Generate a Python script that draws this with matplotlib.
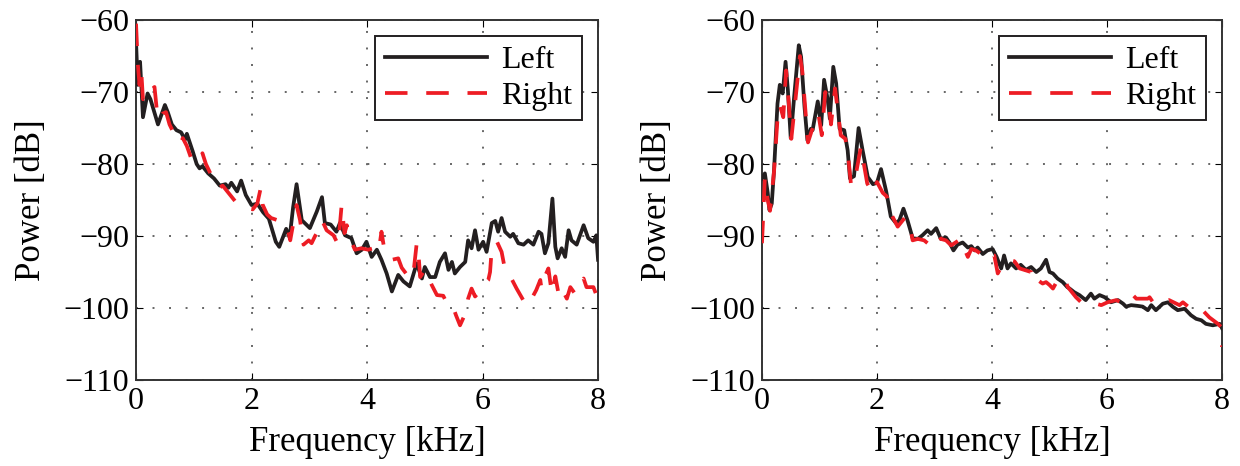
import numpy as np
import matplotlib
matplotlib.use("Agg")
import matplotlib.pyplot as plt

plt.rcParams.update(
    {
        "font.family": ["Liberation Serif", "DejaVu Serif"],
        "font.size": 23,
        "axes.linewidth": 1.4,
        "xtick.direction": "in",
        "ytick.direction": "in",
        "xtick.top": True,
        "ytick.right": True,
        "xtick.major.size": 5,
        "ytick.major.size": 5,
    }
)

# ---- left panel (speech-like spectrum) ----
f_a_left = [0, 0.03, 0.07, 0.12, 0.2, 0.25, 0.38, 0.5, 0.55, 0.62, 0.7, 0.78, 0.85, 0.88, 0.98,
            1.05, 1.1, 1.15, 1.25, 1.35, 1.45, 1.55, 1.6, 1.65, 1.75, 1.82, 1.9, 2.0, 2.1, 2.2,
            2.3, 2.42, 2.48, 2.6, 2.66, 2.72, 2.78, 2.87, 3.01, 3.13, 3.22, 3.27, 3.37, 3.47, 3.53,
            3.62, 3.73, 3.82, 3.91, 3.99, 4.08, 4.17, 4.25, 4.34, 4.43, 4.54, 4.63, 4.74, 4.86, 4.95,
            5.0, 5.09, 5.18, 5.26, 5.35, 5.41, 5.47, 5.52, 5.61, 5.70, 5.75, 5.81, 5.87, 5.93, 6.01,
            6.07, 6.16, 6.22, 6.27, 6.33, 6.39, 6.48, 6.53, 6.62, 6.71, 6.79, 6.88, 6.97, 7.02, 7.08,
            7.14, 7.21, 7.26, 7.30, 7.37, 7.43, 7.49, 7.54, 7.63, 7.75, 7.83, 7.92, 7.97, 8.0]
p_a_left = [-63, -69, -65.8, -73.5, -70.2, -71, -74.5, -71.8, -72.8, -74.5, -75.3, -75.6, -76.6, -75.8, -78.2,
            -80, -80.6, -80.3, -81.3, -82, -83, -82.8, -83.3, -82.6, -83.8, -82.3, -84.3, -85.7, -85.5, -86.7,
            -87.6, -90.8, -91.5, -89, -90.2, -86, -82.8, -87.8, -88.9, -86.6, -84.6, -88.2, -88.4, -89.4, -88.2,
            -89.9, -90.3, -92.4, -91.9, -90.8, -92.9, -91.9, -93.3, -95.2, -97.7, -95.4, -96.3, -97.0, -93.8, -95.9,
            -94.3, -95.7, -95.7, -93.6, -92.4, -94.7, -93.6, -95.2, -94.3, -93.6, -90.6, -91.7, -89.2, -91.9, -90.8,
            -92.2, -88.2, -87.9, -89.4, -87.5, -89.4, -90.1, -89.7, -91.0, -91.2, -90.6, -91.2, -89.4, -89.7, -92.4,
            -91.0, -84.8, -91.5, -93.1, -91.7, -92.9, -89.2, -90.6, -91.2, -88.5, -90.3, -90.8, -89.9, -93.3]

f_a_right = [0, 0.03, 0.06, 0.09, 0.12, 0.17, 0.23, 0.29, 0.32, 0.36, 0.40, 0.46, 0.52, 0.58, 0.64,
             0.72, 0.78, 0.81, 0.88, 0.95, 1.04, 1.1, 1.15, 1.21, 1.3, 1.39, 1.44, 1.5, 1.58, 1.65,
             1.72, 1.8, 1.9, 2.02, 2.1, 2.16, 2.19, 2.27, 2.34, 2.45, 2.57, 2.62, 2.67, 2.78, 2.84,
             2.90, 2.99, 3.04, 3.1, 3.16, 3.22, 3.30, 3.42, 3.50, 3.56, 3.61, 3.65, 3.72, 3.79, 3.90,
             4.02, 4.11, 4.20, 4.25, 4.30, 4.43, 4.54, 4.60, 4.74, 4.80, 4.86, 4.89, 4.92, 5.0, 5.06,
             5.12, 5.21, 5.32, 5.38, 5.47, 5.54, 5.61, 5.70, 5.75, 5.81, 5.87, 5.94, 6.01, 6.10, 6.13,
             6.16, 6.25, 6.33, 6.39, 6.48, 6.59, 6.74, 6.79, 6.85, 6.93, 7.0, 7.02, 7.08, 7.14, 7.20,
             7.26, 7.32, 7.37, 7.46, 7.52, 7.60, 7.69, 7.75, 7.80, 7.92, 7.98, 8.0]
p_a_right = [-60.5, -66, -69, -67, -71, -70.5, -70.8, -69.5, -69.3, -72.5, -73.8, -73, -72.8, -74.5, -75.5,
             -76.8, -77, -76.4, -77.5, -79.1, -79.8, -79.5, -78.5, -80, -81.5, -82.2, -83.3, -83, -83.8, -84.5,
             -85.2, -85.5, -86.1, -86.3, -85.5, -83.3, -85.6, -87, -87.5, -87.8, -88.4, -88.7, -90.6, -85.7, -87.8,
             -91.2, -90.6, -91.0, -90, -89.2, -87.8, -89.2, -89.9, -91.2, -85.7, -89.6, -88.5, -90.6, -91.9, -91.7,
             -91.9, -91.7, -92.2, -89.4, -91.9, -93.3, -93.1, -94.4, -95.9, -95.4, -91.0, -92.4, -95.7, -94.7, -95.7,
             -96.8, -98.2, -98.3, -99.3, -99.4, -101, -102.4, -100.8, -98.7, -97.3, -98.4, -97.8, -96.8, -96.1, -95.0,
             -91.7, -90.8, -92.2, -94.7, -95.6, -97.3, -99.4, -99.6, -98.7, -97.5, -96.1, -97.3, -95.6, -94.5, -98.0,
             -95.6, -98.2, -97.3, -98.7, -97.1, -98.0, -96.6, -95.9, -97.1, -97.1, -98.4, -98.8]

# ---- right panel (music-like spectrum) ----
f_b_left = [0, 0.05, 0.1, 0.13, 0.17, 0.21, 0.27, 0.31, 0.36, 0.41, 0.45, 0.5, 0.56, 0.64, 0.68,
            0.74, 0.79, 0.85, 0.88, 0.97, 1.03, 1.08, 1.14, 1.18, 1.24, 1.29, 1.35, 1.43, 1.49, 1.53,
            1.6, 1.68, 1.75, 1.84, 1.93, 2.0, 2.07, 2.16, 2.24, 2.33, 2.39, 2.46, 2.53, 2.62, 2.71,
            2.79, 2.88, 2.94, 3.03, 3.11, 3.20, 3.26, 3.33, 3.40, 3.49, 3.58, 3.64, 3.70, 3.75, 3.84,
            3.92, 4.01, 4.08, 4.16, 4.21, 4.27, 4.33, 4.42, 4.50, 4.59, 4.68, 4.77, 4.85, 4.94, 5.0,
            5.06, 5.14, 5.23, 5.31, 5.35, 5.43, 5.52, 5.63, 5.72, 5.78, 5.87, 5.96, 6.07, 6.19, 6.28,
            6.33, 6.42, 6.53, 6.62, 6.71, 6.77, 6.85, 6.97, 7.06, 7.14, 7.23, 7.35, 7.46, 7.55, 7.64,
            7.72, 7.84, 7.96, 8.0]
p_b_left = [-82, -81.3, -84, -86.4, -85.5, -80.8, -71.6, -69, -70.2, -65.8, -69.7, -76.4, -70.6, -63.5, -65.1,
            -72.1, -76.7, -75.1, -75.3, -71.3, -74.6, -68.3, -70.9, -73.7, -66.5, -68.8, -75.1, -75.3, -78.1, -82,
            -81.7, -75, -78.1, -81.8, -82.8, -82.6, -80.7, -83.8, -87.3, -88.2, -87.8, -86.2, -87.8, -90.3, -90.4,
            -89.9, -89.2, -89.7, -88.9, -90.4, -90.2, -90.9, -92.0, -91.2, -90.9, -91.6, -91.4, -92.0, -91.6, -92.5,
            -92.0, -91.8, -92.9, -94.5, -92.7, -94.5, -93.8, -94.5, -94.0, -94.7, -94.3, -95.0, -94.5, -93.3, -95.0,
            -95.2, -95.9, -96.4, -97.1, -97.3, -97.8, -98.2, -98.9, -98.0, -98.7, -98.2, -98.5, -99.2, -98.9, -99.4,
            -99.8, -99.6, -99.7, -99.8, -100.3, -99.6, -100.3, -99.4, -99.2, -99.8, -100.3, -100.1, -101.0, -101.5, -101.7,
            -102.2, -102.4, -102.2, -102.8]

f_b_right = [0, 0.05, 0.1, 0.14, 0.21, 0.28, 0.31, 0.37, 0.42, 0.47, 0.51, 0.57, 0.66, 0.7, 0.76,
             0.8, 0.86, 0.98, 1.04, 1.1, 1.16, 1.2, 1.27, 1.37, 1.45, 1.5, 1.55, 1.62, 1.72, 1.83,
             1.93, 2.0, 2.1, 2.17, 2.25, 2.36, 2.48, 2.56, 2.62, 2.71, 2.82, 2.88, 2.91, 3.06, 3.11,
             3.20, 3.29, 3.46, 3.52, 3.58, 3.64, 3.72, 3.81, 3.90, 3.98, 4.04, 4.10, 4.19, 4.30, 4.39,
             4.48, 4.56, 4.68, 4.74, 4.79, 4.88, 4.94, 5.0, 5.06, 5.17, 5.26, 5.32, 5.46, 5.55, 5.63,
             5.72, 5.90, 6.01, 6.16, 6.30, 6.36, 6.45, 6.51, 6.71, 6.74, 6.80, 6.91, 7.00, 7.08, 7.26,
             7.32, 7.41, 7.55, 7.64, 7.72, 7.78, 7.93, 7.98, 8.0]
p_b_right = [-91, -82, -85, -86.5, -81, -72.5, -71.8, -73.5, -67, -72, -76.5, -72, -65, -67, -73,
             -77, -75.5, -73, -76, -70, -71.5, -74.5, -69.5, -76, -76.5, -79, -83, -82, -77.6, -82.7,
             -84.1, -82.5, -84, -84.5, -87, -88.7, -87.5, -88, -90.6, -90.4, -90.6, -91.0, -90.4, -89.7, -90.4,
             -90.6, -91.3, -90.4, -91.8, -92.9, -91.8, -92.0, -92.5, -93.3, -92.7, -92.7, -95.2, -93.8, -93.3, -93.5,
             -94.5, -94.7, -95.0, -96.6, -96.1, -96.6, -96.4, -96.8, -97.3, -95.7, -96.0, -97.1, -98.5, -99.2, -99.4,
             -99.2, -99.6, -99.2, -98.9, -99.4, -98.9, -98.2, -98.7, -98.7, -98.5, -99.2, -99.6, -99.2, -98.9, -99.6,
             -99.2, -99.8, -100.3, -100.1, -100.8, -101.3, -102.2, -102.6, -105.4]

labels = ["Left", "Right"]
x_ticks = [0, 2, 4, 6, 8]
y_ticks = [-110, -100, -90, -80, -70, -60]

black = "#231f20"
red = "#ed1c24"

fig = plt.figure(figsize=(12.4, 4.66), dpi=100)
ax1 = fig.add_axes([0.1097, 0.1845, 0.3726, 0.7725])
ax2 = fig.add_axes([0.6145, 0.1845, 0.3710, 0.7725])

panels = [
    (ax1, f_a_left, p_a_left, f_a_right, p_a_right),
    (ax2, f_b_left, p_b_left, f_b_right, p_b_right),
]

for ax, fl, pl, fr, pr in panels:
    ax.plot(fl, pl, color=black, lw=2.7, label=labels[0], zorder=3)
    ax.plot(fr, pr, color=red, lw=2.7, dashes=(6, 5), label=labels[1], zorder=4)
    ax.set_xlim(0, 8)
    ax.set_ylim(-110, -60)
    ax.set_xticks(x_ticks)
    ax.set_yticks(y_ticks)
    ax.grid(True, color="#666666", lw=1.4, linestyle=(0, (1, 7.5)))
    ax.set_axisbelow(True)
    ax.tick_params(pad=5)
    for s in ax.spines.values():
        s.set_color("#333333")
    ax.set_xlabel("Frequency [kHz]", fontsize=25, labelpad=7)
    ax.set_ylabel("Power [dB]", fontsize=25, labelpad=11)
    leg = ax.legend(loc="upper right", fancybox=False, framealpha=1, edgecolor=black,
                    handlelength=3.2, handletextpad=0.45, labelspacing=0.2,
                    borderpad=0.3, borderaxespad=0.5)
    leg.get_frame().set_linewidth(1.4)

fig.savefig("out.png", dpi=100)
